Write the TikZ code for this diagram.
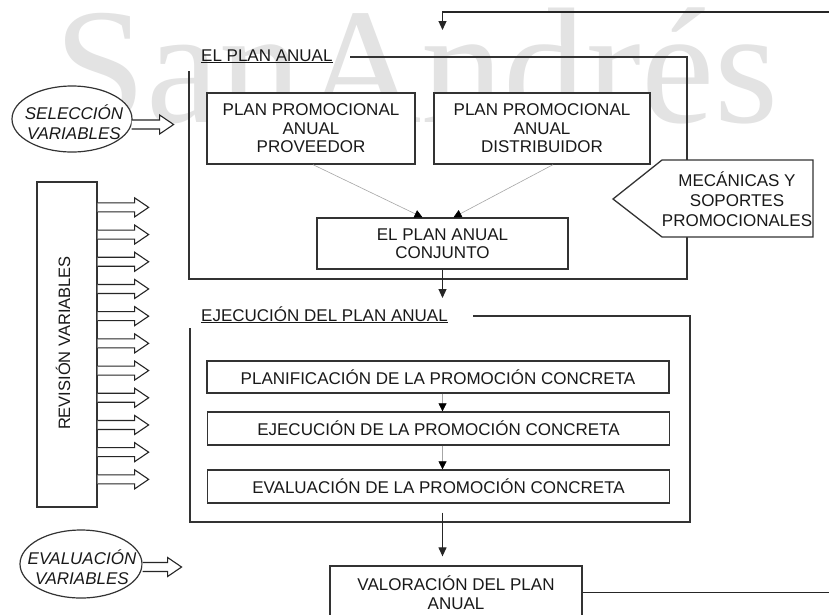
\documentclass[tikz,border=0pt]{standalone}
\usepackage{fontspec}
\setmainfont{Liberation Sans}
\newfontfamily\wmfont{Liberation Serif}
\usetikzlibrary{arrows.meta,calc,shapes.geometric}
\tikzset{
  pics/harrow/.style={code={%
    \draw[draw=black!85, line width=1.1pt, fill=white, line join=miter]
      (0,-4.5) -- (#1-14,-4.5) -- (#1-14,-9.5) -- (#1,0) -- (#1-14,9.5) -- (#1-14,4.5) -- (0,4.5);}},
}
\begin{document}
\begin{tikzpicture}[x=1pt,y=-1pt,
  every node/.style={font=\fontsize{17}{18.5}\selectfont, text=black!90, inner sep=0pt},
  box/.style={draw=black!80, line width=1.3pt, fill=white, align=center},
  frame/.style={draw=black!80, line width=1.3pt},
  thinarrow/.style={draw=black!35, line width=0.6pt, -{Triangle[width=8pt,length=8pt,color=black]}},
  flow/.style={draw=black!85, line width=1.2pt, -{Triangle[width=8pt,length=9pt]}},
  oval/.style={ellipse, draw=black!80, line width=1.2pt, fill=white},
  ovaltext/.style={align=center, font=\fontsize{17}{20.5}\selectfont\itshape},
]
\useasboundingbox (0,0) rectangle (829,614);
\fill[white] (0,0) rectangle (829,614);
\clip (0,0) rectangle (829,614);

% watermark
\node[anchor=base east, font=\fontsize{165}{165}\wmfont, text=black!11] (wm) at (779,122) {SanAndrés};

% ---- EL PLAN ANUAL frame
\node[anchor=base west] (lblplan) at (201,61) {\underline{EL PLAN ANUAL}};
\draw[frame] (189,71) -- (189,279) -- (687,279) -- (687,57) -- (350,57);

\node[box, minimum width=208, minimum height=71] (ppap) at (311,128.5) {PLAN PROMOCIONAL\\ANUAL\\PROVEEDOR};
\node[box, minimum width=216, minimum height=71] (ppad) at (542,128.5) {PLAN PROMOCIONAL\\ANUAL\\DISTRIBUIDOR};
\node[box, minimum width=251, minimum height=51, font=\fontsize{17}{18}\selectfont] (conj) at (442.5,243.5) {EL PLAN ANUAL\\CONJUNTO};

\draw[thinarrow] ($(ppap.south)+(2,0)$) -- ($(conj.north)+(-20,0)$);
\draw[thinarrow] ($(ppad.south)+(11,0)$) -- ($(conj.north)+(11,0)$);

% mecanicas
\draw[draw=black!80, line width=1.3pt, fill=white] (662,160) -- (813,160) -- (813,237) -- (662,237) -- (613,199) -- cycle;
\node[align=center, font=\fontsize{17}{20}\selectfont] (mec) at (737,199) {MECÁNICAS Y\\SOPORTES\\PROMOCIONALES};

% conj -> ejecucion
\coordinate (ejin) at (442.5,298);
\draw[flow] (conj.south) -- (ejin);

% ---- seleccion
\node[oval, minimum width=120, minimum height=66] (sel) at (72,119) {};
\node[ovaltext] at (74,122) {SELECCIÓN\\VARIABLES};
\pic at ($(sel.east)+(-1,5.5)$) {harrow=42};

% ---- revision
\node[box, minimum width=60, minimum height=325] (rev) at (67,344.5) {};
\node[rotate=90, font=\fontsize{16.5}{18}\selectfont] at (63,343) {REVISIÓN VARIABLES};
\foreach \k in {0,...,10}
  \pic at ($(rev.north east)+(0,{26+27.2*\k})$) {harrow=51};

% ---- EJECUCION frame
\node[anchor=base west] (lblej) at (201,321) {\underline{EJECUCIÓN DEL PLAN ANUAL}};
\draw[frame] (190,328) -- (190,522) -- (690,522) -- (690,316) -- (473,316);

\node[box, minimum width=462, minimum height=32] (plp) at (438,377) {PLANIFICACIÓN DE LA PROMOCIÓN CONCRETA};
\node[box, minimum width=462, minimum height=33] (ejp) at (438.5,428.5) {EJECUCIÓN DE LA PROMOCIÓN CONCRETA};
\node[box, minimum width=462, minimum height=33] (evp) at (438.5,486.5) {EVALUACIÓN DE LA PROMOCIÓN CONCRETA};

\draw[thinarrow] (plp.south -| conj.south) -- (ejp.north -| conj.south);
\draw[thinarrow] (ejp.south -| conj.south) -- (evp.north -| conj.south);

% ---- evaluacion variables
\node[oval, minimum width=122, minimum height=68] (evv) at (81,564) {};
\node[ovaltext] at (82,567) {EVALUACIÓN\\VARIABLES};
\pic at ($(evv.east)+(0,3)$) {harrow=39};

% ---- valoracion
\node[box, minimum width=252, minimum height=53] (val) at (456,592.5) {VALORACIÓN DEL PLAN\\ANUAL};
\draw[flow] ($(evp.south -| conj.south)+(0,9)$) -- ($(val.north -| conj.south)+(0,-9)$);

% feedback loop
\coordinate (fbin) at (442.5,30);
\draw[flow] (val.east) -- (850,592.5) -- (850,12) -- (442.5,12) -- (fbin);
\end{tikzpicture}
\end{document}
